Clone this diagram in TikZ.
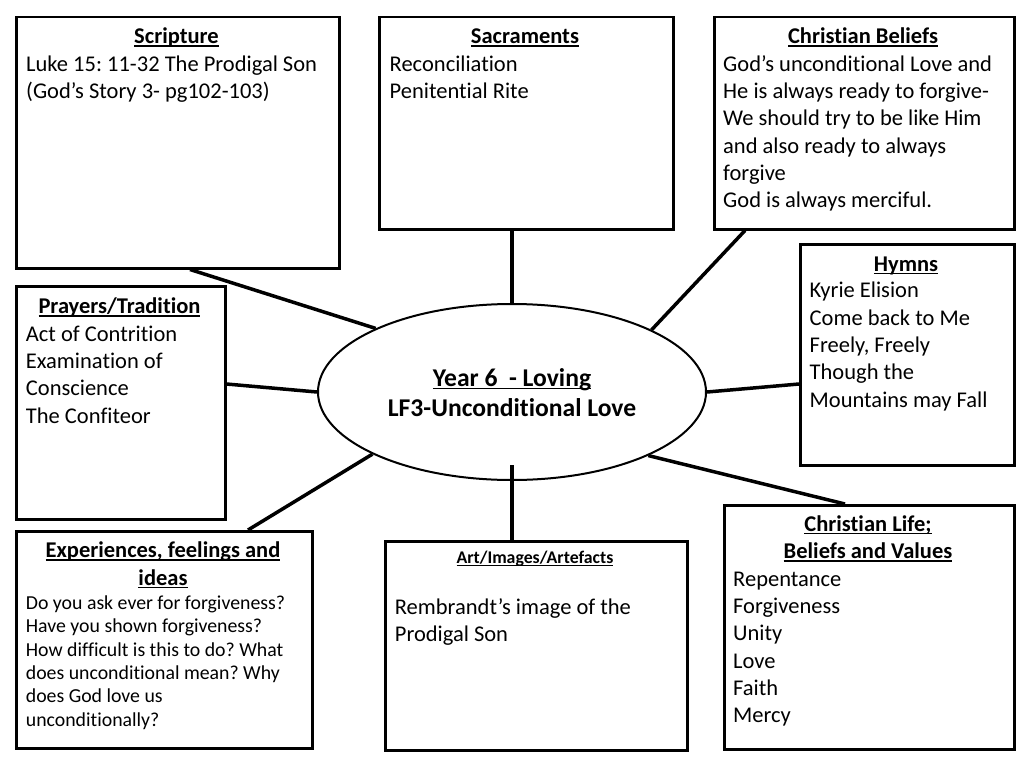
\documentclass[tikz,border=0pt]{standalone}
\usepackage{fontspec}
\setmainfont{Carlito}[Ligatures=NoCommon]
\frenchspacing
\usetikzlibrary{shapes.geometric,calc}
\newcommand{\hul}[1]{\setbox0\hbox{#1}\rlap{\rule[-3pt]{\wd0}{1.5pt}}\box0}
\tikzset{
  box/.style={draw=black, line width=2.5pt, fill=white, rectangle, inner sep=0pt, anchor=north west},
  link/.style={draw=black, line width=3.5pt},
  hd/.style={font=\fontsize{22.5}{27.3}\selectfont\bfseries, anchor=base, inner sep=0pt},
  hdm/.style={font=\fontsize{22.5}{27.3}\selectfont\bfseries, align=center, anchor=north, inner sep=0pt},
  bd/.style={font=\fontsize{22.5}{27.3}\selectfont, align=left, anchor=north west, inner sep=0pt},
  bdsmall/.style={font=\fontsize{19.8}{23.3}\selectfont, align=left, anchor=north west, inner sep=0pt},
}
\begin{document}
\begin{tikzpicture}[x=1pt, y=-1pt]
\fill[white] (0,0) rectangle (1024,768);
\useasboundingbox (0,0) rectangle (1024,768);

% boxes
\node[box, minimum width=323pt, minimum height=251pt] (scr) at (15,16) {};
\node[box, minimum width=294pt, minimum height=212pt] (sac) at (378,16) {};
\node[box, minimum width=300pt, minimum height=212pt] (bel) at (713,16) {};
\node[box, minimum width=209pt, minimum height=233pt] (pra) at (15,285) {};
\node[box, minimum width=214pt, minimum height=221pt] (hym) at (799,243) {};
\node[box, minimum width=296pt, minimum height=217pt] (exp) at (15,530) {};
\node[box, minimum width=302pt, minimum height=209pt] (art) at (384,540) {};
\node[box, minimum width=290pt, minimum height=244pt] (lif) at (723,504) {};

% central ellipse
\node[ellipse, draw=black, line width=2pt, fill=white, inner sep=0pt,
      minimum width=388pt, minimum height=176pt] (c) at (512,392) {};
\coordinate (artin) at (512,465);

% connectors
\draw[link] ($(scr.south west)+(175,0)$) -- (c.155);
\draw[link] ($(sac.south west)+(134,0)$) -- (c.north);
\draw[link] ($(bel.south west)+(32,0)$) -- (c.24);
\draw[link] ($(pra.north east)+(0,99)$) -- (c.west);
\draw[link] ($(hym.north west)+(0,141)$) -- (c.east);
\draw[link] ($(lif.north west)+(122,0)$) -- (c.335);
\draw[link] ($(exp.north west)+(233,0)$) -- (c.204);
\draw[link] (artin) -- ($(art.north west)+(128,0)$);

% centre text
\node[font=\fontsize{25.6}{30}\selectfont\bfseries, align=center, anchor=north, inner sep=0pt] (ctext) at (512,365)
  {\strut\hul{Year 6~~- Loving}\\LF3-Unconditional Love};

% Scripture
\node[hd] (scrH) at (176.5,43.5) {\hul{Scripture}};
\node[bd] (scrB) at (26,51.9) {\strut Luke 15: 11-32 The Prodigal Son\\(God’s Story 3- pg102-103)};

% Sacraments
\node[hd] (sacH) at (525,43.5) {\hul{Sacraments}};
\node[bd] (sacB) at (389.5,51.9) {\strut Reconciliation\\Penitential Rite};

% Christian Beliefs
\node[hd] (belH) at (863,43.5) {\hul{Christian Beliefs}};
\node[bd] (belB) at (723,51.9) {\strut God’s unconditional Love and\\He is always ready to forgive-\\We should try to be like Him\\and also ready to always\\forgive\\God is always merciful.};

% Prayers/Tradition
\node[hd] (praH) at (119.5,313.6) {\hul{Prayers/Tradition}};
\node[bd] (praB) at (25.7,321.9) {\strut Act of Contrition\\Examination of\\Conscience\\The Confiteor};

% Hymns
\node[hd] (hymH) at (906,271) {\hul{Hymns}};
\node[bd] (hymB) at (809.5,278.5) {\strut Kyrie Elision\\Come back to Me\\Freely, Freely\\Though the\\Mountains may Fall};

% Christian Life
\node[hdm] (lifH) at (868,511.9) {\strut\hul{Christian Life;}\\\hul{Beliefs and Values}};
\node[bd] (lifB) at (733,566.9) {\strut Repentance\\Forgiveness\\Unity\\Love\\Faith\\Mercy};

% Experiences
\node[hdm] (expH) at (163,538.5) {\strut\hul{Experiences, feelings and}\\\hul{ideas}};
\node[bdsmall] (expB) at (25.7,593.1) {\strut Do you ask ever for forgiveness?\\Have you shown forgiveness?\\How difficult is this to do? What\\does unconditional mean? Why\\does God love us\\unconditionally?};

% Art
\node[hd, font=\fontsize{17.8}{21}\selectfont\bfseries] (artH) at (535,563.4) {\hul{Art/Images/Artefacts}};
\node[bd] (artB) at (394.7,595.2) {\strut Rembrandt’s image of the\\Prodigal Son};
\end{tikzpicture}
\end{document}
